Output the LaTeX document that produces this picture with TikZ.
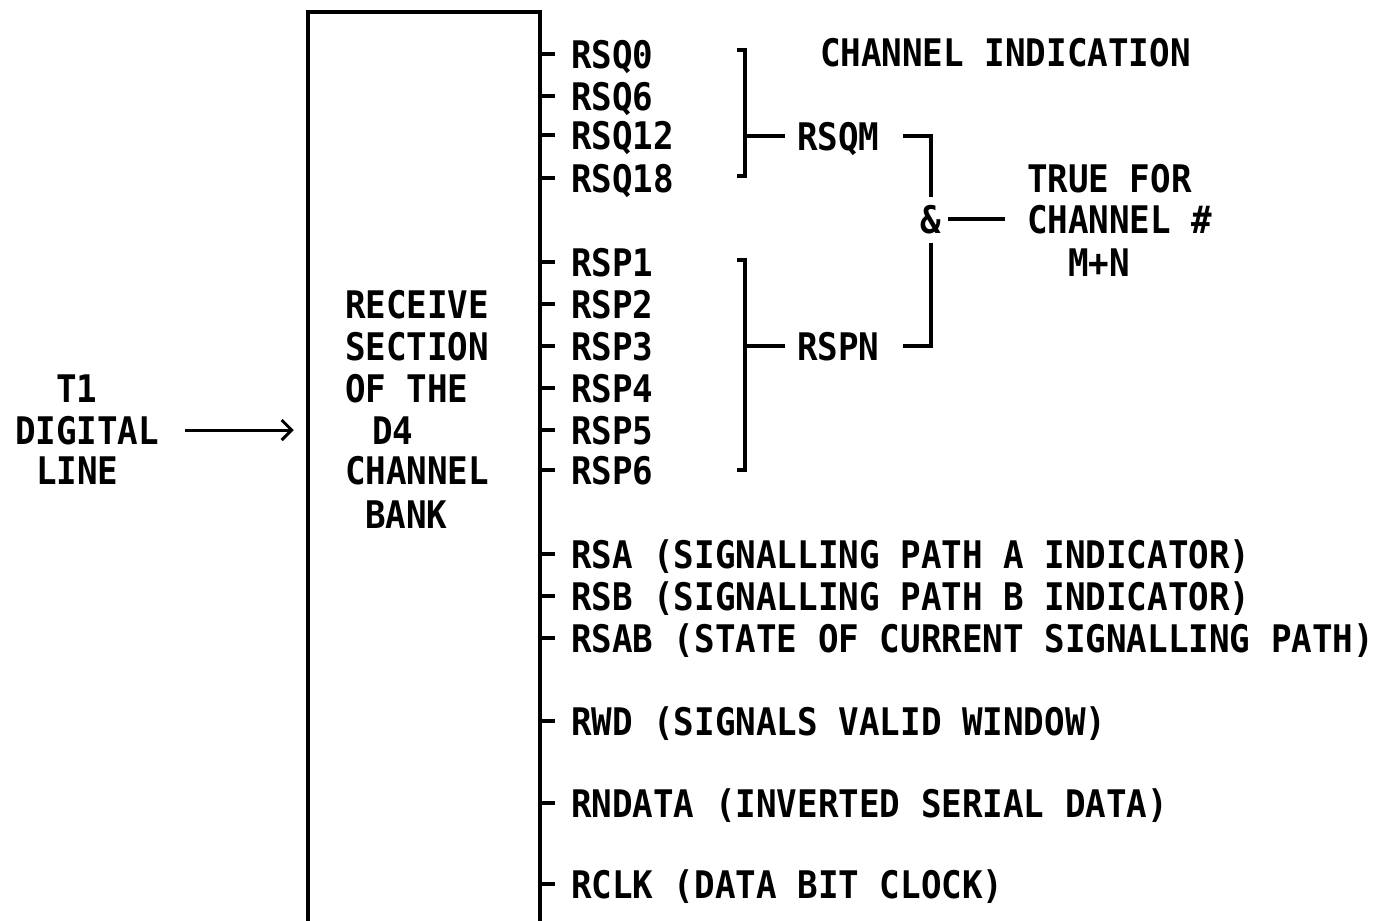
\documentclass[tikz,border=0pt]{standalone}
\usepackage{fontspec}
\setmonofont{DejaVu Sans Mono}[FakeStretch=0.9]
\usetikzlibrary{arrows.meta}
\begin{document}
\begin{tikzpicture}[x=1pt, y=-1pt, line width=4pt,
    every node/.style={font=\ttfamily\bfseries\fontsize{38}{44}\selectfont,
      inner sep=0pt, text height=28pt, text depth=0pt},
    sig/.style={anchor=west}]
  \useasboundingbox (0,0) rectangle (1379,921);
  % receive section box, open at the bottom
  \node[draw, line width=4.5pt, minimum width=232pt, minimum height=950pt] (bank) at (424,487) {};
  \foreach \n/\x/\y/\txt in {b1/343/304/RECEIVE, b2/343/346/SECTION,
      b3/343/388/OF THE, b4/370/430/D4, b5/343/470/CHANNEL, b6/363/514/BANK}
    \node[sig] (\n) at (\x,\y) {\txt};
  % input line
  \node[sig] (tone) at (54,388) {T1};
  \node[sig] (dig) at (13,430) {DIGITAL};
  \node[sig] (line) at (34,470) {LINE};
  \draw[line width=3pt, -{Straight Barb[length=10pt, width=20pt, line width=3pt]}]
    ([xshift=24pt]dig.east) -- ([xshift=-12pt]bank.west |- dig.east);
  % output signals
  \foreach \n/\y/\txt in {q0/54/RSQ0, q6/96/RSQ6, q12/135/RSQ12, q18/178/RSQ18,
      p1/262/RSP1, p2/304/RSP2, p3/346/RSP3, p4/388/RSP4, p5/430/RSP5, p6/470/RSP6,
      sa/554/RSA (SIGNALLING PATH A INDICATOR), sb/596/RSB (SIGNALLING PATH B INDICATOR),
      sab/638/RSAB (STATE OF CURRENT SIGNALLING PATH), wd/721/RWD (SIGNALS VALID WINDOW),
      nd/803/RNDATA (INVERTED SERIAL DATA), clk/884/RCLK (DATA BIT CLOCK)} {
    \node[sig] (\n) at (569,\y) {\txt};
    \draw[line width=3.5pt] (bank.east |- \n.west) -- ++(13,0);
  }
  \node[sig] (ind) at (818,52) {CHANNEL INDICATION};
  % channel selection
  \draw (737,50) -- (745,50) -- (745,176) -- (737,176);
  \draw (737,260) -- (745,260) -- (745,470) -- (737,470);
  \node[sig] (qm) at (795,136) {RSQM};
  \node[sig] (pn) at (795,346) {RSPN};
  \node (amp) at (931,219) {\&};
  \draw (745,136) -- ([xshift=-10pt]qm.west);
  \draw (745,346) -- ([xshift=-10pt]pn.west);
  \draw ([xshift=22pt]qm.east) -| ([yshift=6pt]amp.north);
  \draw ([yshift=-8pt]amp.south) |- ([xshift=22pt]pn.east);
  \node[sig] (t1) at (1025,178) {TRUE FOR};
  \node[sig] (t2) at (1025,219) {CHANNEL \#};
  \node[sig] (t3) at (1066,262) {M+N};
  \draw ([xshift=5pt]amp.east) -- ([xshift=-20pt]t2.west);
\end{tikzpicture}
\end{document}
